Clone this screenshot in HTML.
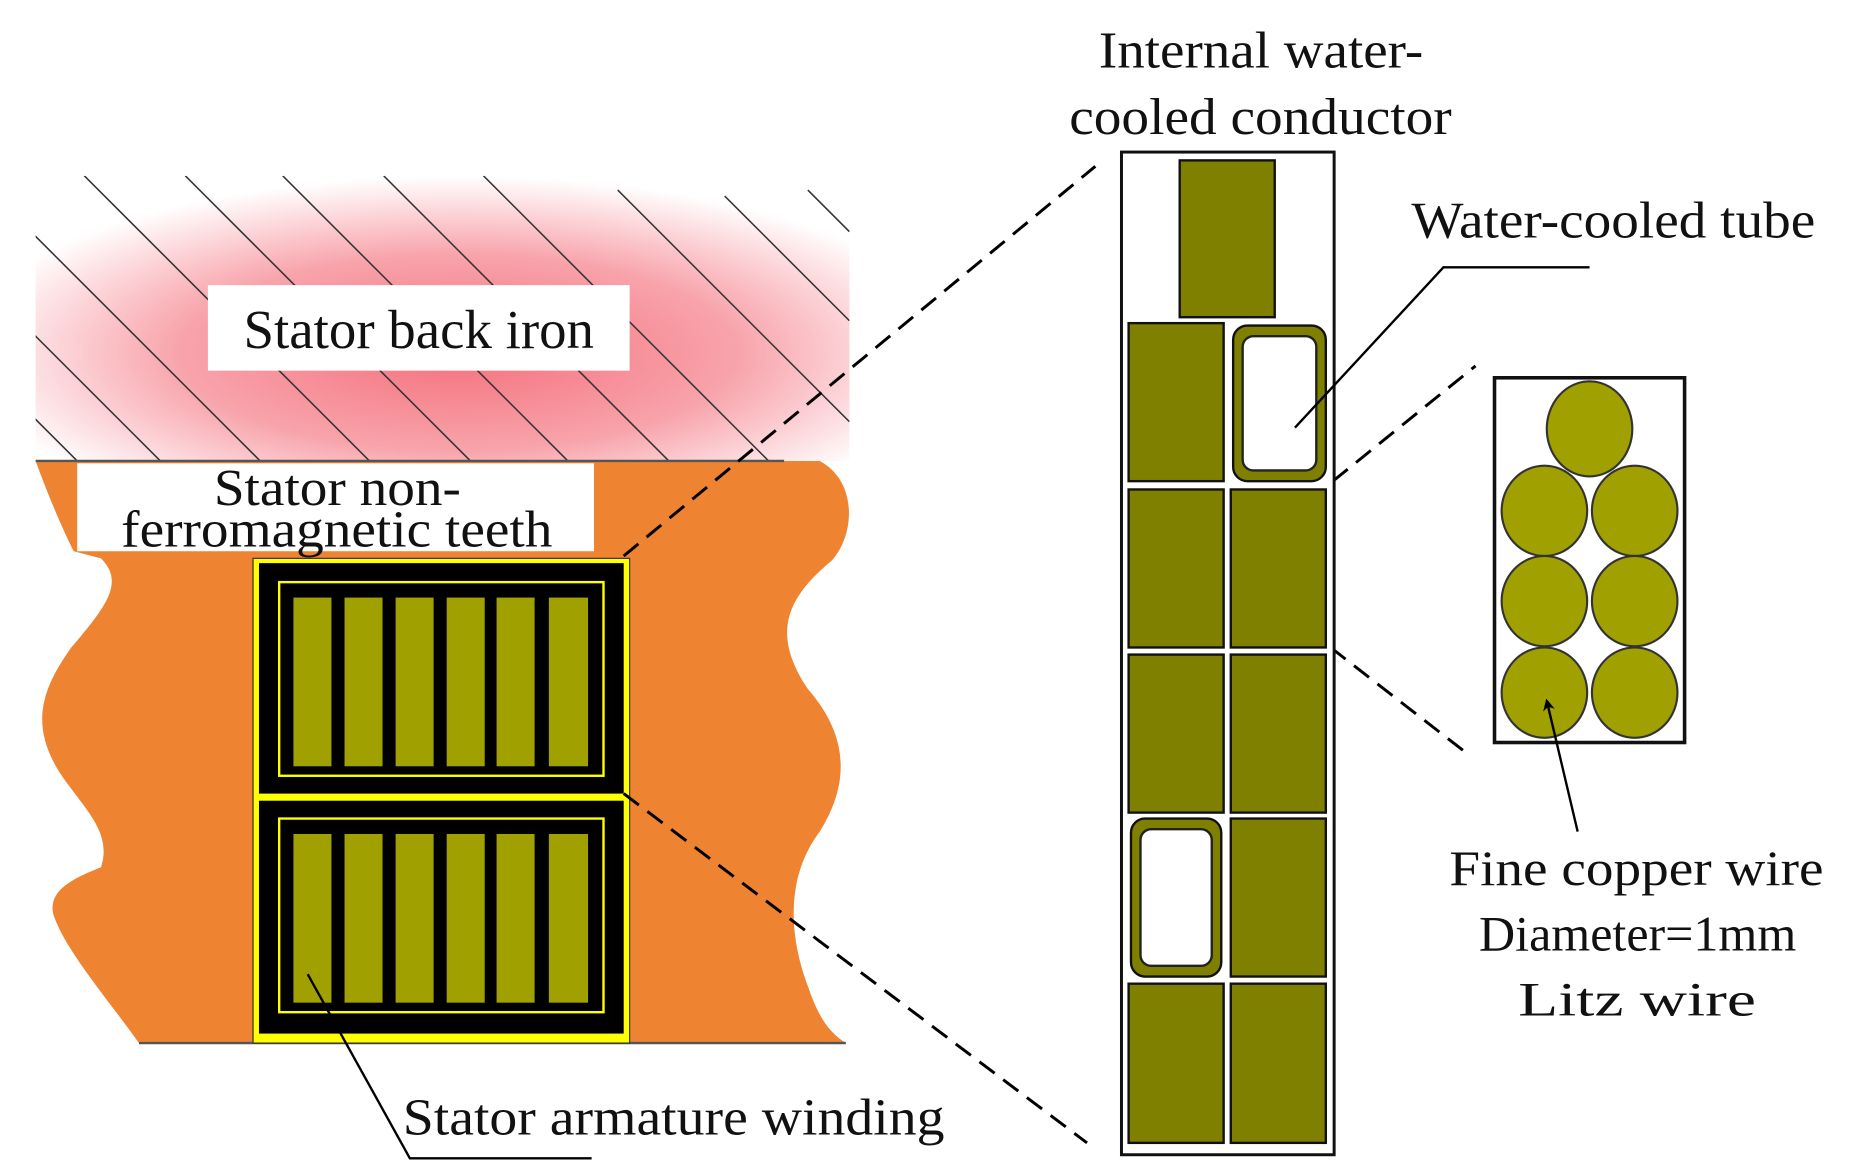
<!DOCTYPE html>
<html><head><meta charset="utf-8"><style>
html,body{margin:0;padding:0;background:#fff;}
svg{display:block;}
text{font-family:"Liberation Serif",serif;fill:#111;}
</style></head><body>
<svg width="1854" height="1174" viewBox="0 0 1560.6 988.2" preserveAspectRatio="none" xmlns="http://www.w3.org/2000/svg">
<defs>
<radialGradient id="pk" cx="0.52" cy="0.62" r="0.62">
<stop offset="0" stop-color="#f5707c"/>
<stop offset="0.55" stop-color="#f8a3ab"/>
<stop offset="1" stop-color="#ffffff"/>
</radialGradient>
<clipPath id="bi"><rect x="30" y="148" width="685" height="240"/></clipPath>
<marker id="ar" markerWidth="10" markerHeight="10" refX="8" refY="5" orient="auto" markerUnits="userSpaceOnUse"><path d="M0,0 L10,5 L0,10 L3,5 Z" fill="#000"/></marker>
</defs>
<rect x="30" y="148" width="685" height="240" fill="url(#pk)"/>
<g clip-path="url(#bi)" stroke="#333" stroke-width="1.3">
<line x1="-175" y1="148" x2="65" y2="388"/>
<line x1="-105" y1="148" x2="135" y2="388"/>
<line x1="-21" y1="148" x2="219" y2="388"/>
<line x1="71" y1="148" x2="311" y2="388"/>
<line x1="156" y1="148" x2="396" y2="388"/>
<line x1="238" y1="148" x2="478" y2="388"/>
<line x1="323" y1="148" x2="563" y2="388"/>
<line x1="407" y1="148" x2="647" y2="388"/>
<line x1="520" y1="160" x2="715" y2="355"/>
<line x1="610" y1="165" x2="715" y2="270"/>
<line x1="680" y1="160" x2="715" y2="195"/>
</g>
<rect x="175" y="240" width="355" height="72" fill="#fff"/>
<text x="205" y="293" font-size="46" textLength="295" lengthAdjust="spacingAndGlyphs">Stator back iron</text>
<path d="M30,388 L690,388 C722,405 720,450 700,472 C660,505 650,535 680,580 C715,620 715,660 690,700 C660,740 665,790 680,830 C690,860 700,870 712,878 L117,878 C90,840 55,800 45,770 C40,750 60,740 85,730 C95,700 70,680 50,650 C25,610 35,580 60,545 C90,510 105,490 85,470 L62,464 C50,440 38,410 30,388 Z" fill="#ee8332"/>
<line x1="30" y1="388" x2="660" y2="388" stroke="#555" stroke-width="2"/>
<line x1="117" y1="878" x2="712" y2="878" stroke="#555" stroke-width="2"/>
<rect x="65" y="390" width="435" height="74" fill="#fff"/>
<text x="180" y="425" font-size="44" textLength="208" lengthAdjust="spacingAndGlyphs">Stator non-</text>
<text x="102" y="460" font-size="44" textLength="363" lengthAdjust="spacingAndGlyphs">ferromagnetic teeth</text>
<rect x="213" y="470" width="317" height="408" fill="#ffff00" stroke="#333" stroke-width="1"/>
<rect x="218" y="474" width="307" height="194" fill="#000"/>
<rect x="218" y="674" width="307" height="196" fill="#000"/>
<rect x="218" y="671" width="307" height="2.5" fill="#ffff00"/>
<rect x="235" y="490" width="273" height="163" fill="none" stroke="#ffff00" stroke-width="2"/>
<rect x="235" y="689" width="273" height="163" fill="none" stroke="#ffff00" stroke-width="2"/>
<g fill="#a0a000">
<rect x="247" y="503" width="32" height="142"/><rect x="290" y="503" width="32" height="142"/><rect x="333" y="503" width="32" height="142"/><rect x="376" y="503" width="32" height="142"/><rect x="418" y="503" width="32" height="142"/><rect x="462" y="503" width="33" height="142"/>
<rect x="247" y="702" width="32" height="142"/><rect x="290" y="702" width="32" height="142"/><rect x="333" y="702" width="32" height="142"/><rect x="376" y="702" width="32" height="142"/><rect x="418" y="702" width="32" height="142"/><rect x="462" y="702" width="33" height="142"/>
</g>
<g stroke="#000" stroke-width="2.5" stroke-dasharray="16,9" fill="none">
<line x1="525" y1="468" x2="922" y2="140"/>
<line x1="525" y1="668" x2="915" y2="962"/>
<line x1="1122" y1="405" x2="1242" y2="308"/>
<line x1="1120" y1="545" x2="1232" y2="632"/>
</g>
<polyline points="259,820 345,975 498,975" fill="none" stroke="#000" stroke-width="2"/>
<text x="339" y="955" font-size="44" textLength="456" lengthAdjust="spacingAndGlyphs">Stator armature winding</text>
<rect x="944" y="128" width="179" height="844" fill="#fff" stroke="#111" stroke-width="2.5"/>
<g fill="#808000" stroke="#111" stroke-width="2">
<rect x="993" y="135" width="80" height="132"/>
<rect x="950" y="272" width="80" height="133"/>
<rect x="950" y="412" width="80" height="133"/><rect x="1036" y="412" width="80" height="133"/>
<rect x="950" y="551" width="80" height="133"/><rect x="1036" y="551" width="80" height="133"/>
<rect x="1036" y="689" width="80" height="133"/>
<rect x="950" y="828" width="80" height="134"/><rect x="1036" y="828" width="80" height="134"/>
<rect x="1038" y="274" width="78" height="131" rx="12"/>
<rect x="952" y="689" width="76" height="133" rx="12"/>
</g>
<rect x="1046" y="283" width="62" height="113" rx="9" fill="#fff" stroke="#222" stroke-width="2"/>
<rect x="960" y="698" width="60" height="115" rx="9" fill="#fff" stroke="#222" stroke-width="2"/>
<text x="925" y="57" font-size="44" textLength="273" lengthAdjust="spacingAndGlyphs">Internal water-</text>
<text x="900" y="113" font-size="44" textLength="322" lengthAdjust="spacingAndGlyphs">cooled conductor</text>
<polyline points="1090,360 1215,225 1338,225" fill="none" stroke="#000" stroke-width="2"/>
<text x="1188" y="200" font-size="44" textLength="340" lengthAdjust="spacingAndGlyphs">Water-cooled tube</text>
<rect x="1258" y="318" width="160" height="307" fill="#fff" stroke="#111" stroke-width="3"/>
<g fill="#a0a000" stroke="#333" stroke-width="1.8">
<ellipse cx="1338" cy="361" rx="36" ry="40"/>
<ellipse cx="1300" cy="430" rx="36" ry="38"/><ellipse cx="1376" cy="430" rx="36" ry="38"/>
<ellipse cx="1300" cy="506" rx="36" ry="38"/><ellipse cx="1376" cy="506" rx="36" ry="38"/>
<ellipse cx="1300" cy="583" rx="36" ry="38"/><ellipse cx="1376" cy="583" rx="36" ry="38"/>
</g>
<line x1="1328" y1="700" x2="1302" y2="590" stroke="#000" stroke-width="2" marker-end="url(#ar)"/>
<text x="1220" y="745" font-size="42" textLength="315" lengthAdjust="spacingAndGlyphs">Fine copper wire</text>
<text x="1245" y="800" font-size="42" textLength="267" lengthAdjust="spacingAndGlyphs">Diameter=1mm</text>
<text x="1278" y="855" font-size="40" textLength="200" lengthAdjust="spacingAndGlyphs" font-family="Liberation Mono, monospace">Litz wire</text>
</svg>
</body></html>
